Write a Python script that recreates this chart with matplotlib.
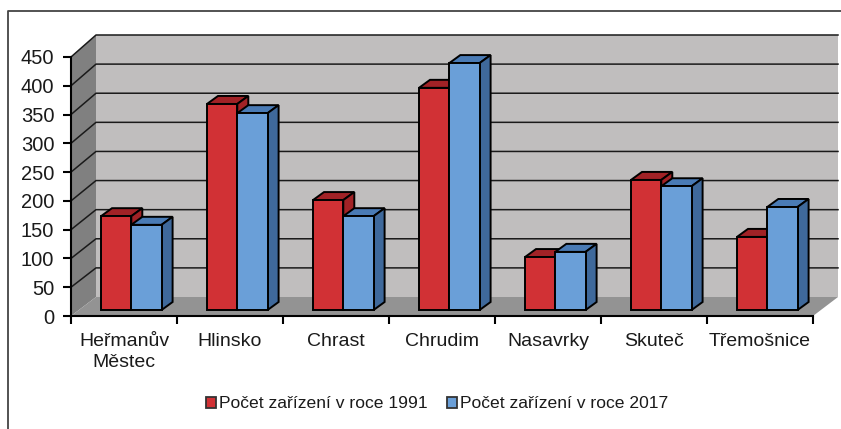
import matplotlib
matplotlib.use("Agg")
import matplotlib.pyplot as plt
from matplotlib.patches import Polygon, Rectangle

# Chart values
towns = ["Heřmanův\nMěstec", "Hlinsko", "Chrast", "Chrudim", "Nasavrky", "Skuteč", "Třemošnice"]
count_1991 = [163, 358, 191, 386, 92, 226, 127]
count_2017 = [148, 342, 163, 429, 101, 215, 179]
y_ticks = [0, 50, 100, 150, 200, 250, 300, 350, 400, 450]

WIDTH, HEIGHT = 841, 429

# Size of the 3D effect in data units of the axes
WALL_DX = 25 / 106
BAR_DX = 11 / 106
PX_Y = 450 / 259
BAR_DY = 8 * PX_Y
BASE = 6 * PX_Y
BAR_W = 30.3 / 106
BAR_START = 30 / 106


# Height of a value on the back wall
def back_y(value):
    return value * 262 / 259 + 19 * PX_Y


# Draw one 3D bar with its top and side faces
def draw_bar(ax, x, value, front, top, side):
    y = BASE + value
    ax.add_patch(Polygon([(x, y), (x + BAR_W, y), (x + BAR_W + BAR_DX, y + BAR_DY), (x + BAR_DX, y + BAR_DY)],
                         facecolor=top, edgecolor="black", linewidth=1.4, zorder=5, clip_on=False))
    ax.add_patch(Polygon([(x + BAR_W, BASE), (x + BAR_W + BAR_DX, BASE + BAR_DY),
                          (x + BAR_W + BAR_DX, y + BAR_DY), (x + BAR_W, y)],
                         facecolor=side, edgecolor="black", linewidth=1.4, zorder=5, clip_on=False))
    ax.bar(x, value, BAR_W, bottom=BASE, align="edge", color=front, edgecolor="black", linewidth=1.4, zorder=6)


def main():
    plt.rcParams["font.family"] = ["Liberation Sans", "DejaVu Sans"]

    fig = plt.figure(figsize=(WIDTH / 100, HEIGHT / 100), dpi=100)
    ax = fig.add_axes([71 / WIDTH, 1 - 316 / HEIGHT, 742 / WIDTH, 259 / HEIGHT])
    ax.set_xlim(0, 7)
    ax.set_ylim(0, 450)
    ax.patch.set_visible(False)

    # Back wall, side wall and floor
    top = back_y(450)
    low = back_y(0)
    ax.add_patch(Rectangle((WALL_DX, low), 7, top - low, facecolor="#c0bebe", edgecolor="none", zorder=1, clip_on=False))
    ax.add_patch(Polygon([(0, 0), (WALL_DX, low), (WALL_DX, top), (0, 450)], facecolor="#808080", edgecolor="none", zorder=1, clip_on=False))
    ax.add_patch(Polygon([(0, 0), (7, 0), (7 + WALL_DX, low), (WALL_DX, low)], facecolor="#939393", edgecolor="none", zorder=1, clip_on=False))

    # Gridlines run along the side wall and the back wall
    for value in y_ticks[1:]:
        ax.plot([0, WALL_DX, 7 + WALL_DX], [value, back_y(value), back_y(value)], color="#1a1a1a", linewidth=1.1, zorder=2, clip_on=False)

    # Bars
    for i in range(len(towns)):
        draw_bar(ax, i + BAR_START, count_1991[i], "#d13135", "#a12226", "#a12226")
        draw_bar(ax, i + BAR_START + BAR_W, count_2017[i], "#6a9fd8", "#4a7bb5", "#3f699b")

    # Axes
    for name in ["top", "right"]:
        ax.spines[name].set_visible(False)
    for name in ["left", "bottom"]:
        ax.spines[name].set_linewidth(1.5)
        ax.spines[name].set_zorder(7)
    ax.set_yticks(y_ticks)
    ax.set_xticks(range(8))
    ax.set_xticklabels([])
    ax.set_xticks([i + 0.5 for i in range(7)], labels=towns, minor=True, linespacing=1.25)
    ax.tick_params(axis="x", which="minor", length=0, labelsize=14, pad=12.5, labelcolor="#1a1a1a")
    ax.tick_params(axis="x", which="major", length=6, width=1.5)
    ax.tick_params(axis="y", length=6, width=1.5, labelsize=14.5, pad=6, labelcolor="#1a1a1a")

    # Legend
    handles = [Rectangle((0, 0), 1, 1, facecolor="#d13135", edgecolor="#333333", linewidth=1.3),
               Rectangle((0, 0), 1, 1, facecolor="#6a9fd8", edgecolor="#333333", linewidth=1.3)]
    fig.legend(handles, ["Počet zařízení v roce 1991", "Počet zařízení v roce 2017"],
               loc="center", bbox_to_anchor=(437 / WIDTH, 1 - 404 / HEIGHT), ncol=2, frameon=False,
               fontsize=12.6, handlelength=0.57, handleheight=0.57, handletextpad=0.17, columnspacing=1.1,
               labelcolor="#1a1a1a")

    # Outer frame, open on the right and at the bottom
    fig.add_artist(plt.Line2D([8 / WIDTH, 8 / WIDTH, 1], [0, 1 - 11 / HEIGHT, 1 - 11 / HEIGHT], color="#444444", linewidth=1.3))

    fig.savefig("out.png", dpi=100)


if __name__ == "__main__":
    main()
